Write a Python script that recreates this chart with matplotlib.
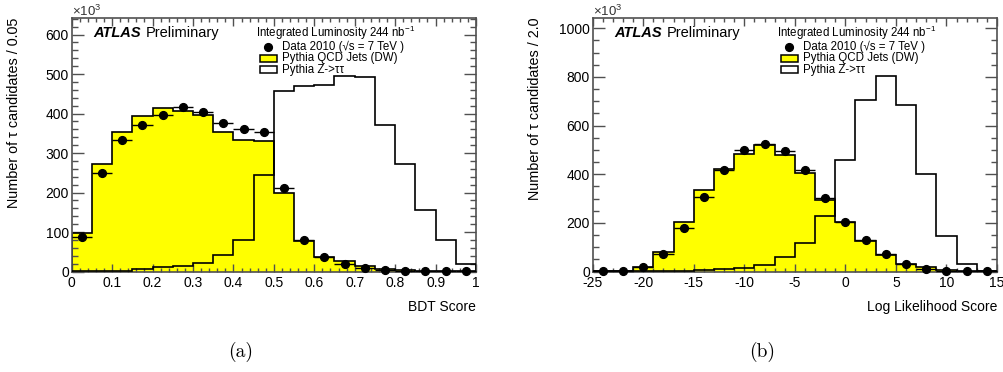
import numpy as np
import matplotlib
matplotlib.use("Agg")
import matplotlib.pyplot as plt
from matplotlib.patches import Rectangle
from matplotlib.lines import Line2D
from matplotlib.ticker import MultipleLocator

plt.rcParams['font.family'] = ['Liberation Sans', 'DejaVu Sans']
plt.rcParams['mathtext.fontset'] = 'custom'
plt.rcParams['mathtext.rm'] = 'Liberation Sans'
plt.rcParams['mathtext.it'] = 'Liberation Sans:italic'
plt.rcParams['mathtext.bf'] = 'Liberation Sans:bold'

# (a) BDT score, 20 bins of 0.05, counts in units of 10^3
bdt_edges = np.linspace(0, 1, 21)
bdt_qcd = [98, 272, 353, 394, 413, 407, 396, 354, 332, 330,
           200, 78, 36, 26, 13, 7, 3, 2, 1, 1]
bdt_ztt = [1, 1, 2, 7, 12, 15, 21, 42, 80, 245,
           456, 470, 473, 494, 492, 371, 271, 155, 81, 20]
bdt_data = [88, 249, 332, 370, 397, 417, 404, 376, 360, 353,
            211, 80, 36, 19, 10, 5, 2, 1, 0.5, 0.5]

# (b) log likelihood score, 20 bins of 2.0
llh_edges = np.arange(-25, 16, 2.0)
llh_qcd = [1, 3, 19, 80, 202, 334, 423, 483, 519, 478,
           404, 295, 205, 126, 69, 30, 18, 5, 1, 0.5]
llh_ztt = [0.5, 0.5, 0.5, 1, 3, 5, 10, 16, 27, 58,
           117, 229, 460, 706, 802, 685, 400, 147, 30, 1]
llh_data = [1, 4, 19, 71, 180, 306, 419, 499, 526, 494,
            419, 302, 203, 128, 70, 32, 11, 3, 1, 0.5]

W, H = 1004, 372
fig = plt.figure(figsize=(W / 100, H / 100), dpi=100)


def fx(x):
    return x / W


def fy(y):
    return 1 - y / H


frame_col = '#505050'


def draw_panel(left, edges, qcd, ztt, data, ymax, xmaj, xmin_, ymaj, ymin_,
               ylabel, xlabel, tag):
    ax = fig.add_axes([fx(left), fy(271.5), 404.3 / W, 253.5 / H])
    centers = 0.5 * (edges[:-1] + edges[1:])
    half = 0.5 * np.diff(edges)
    ax.stairs(qcd, edges, baseline=0, fill=True, color='#ffff00', zorder=1)
    ax.stairs(qcd, edges, baseline=0, color='black', lw=1.2, zorder=2)
    ax.stairs(ztt, edges, baseline=0, color='black', lw=1.2, zorder=3)
    ax.errorbar(centers, data, xerr=half, fmt='o', color='black', ms=5.6,
                elinewidth=1.0, capsize=0, zorder=4, clip_on=False)
    ax.set_xlim(edges[0], edges[-1])
    ax.set_ylim(0, ymax)
    ax.xaxis.set_major_locator(MultipleLocator(xmaj))
    ax.xaxis.set_minor_locator(MultipleLocator(xmin_))
    ax.yaxis.set_major_locator(MultipleLocator(ymaj))
    ax.yaxis.set_minor_locator(MultipleLocator(ymin_))
    ax.tick_params(which='both', direction='in', top=True, right=True,
                   colors=frame_col, labelcolor='black', labelsize=10, width=1)
    ax.tick_params(axis='x', which='major', length=5.5, pad=3)
    ax.tick_params(axis='x', which='minor', length=2.8)
    ax.tick_params(axis='y', which='major', length=8.6, pad=2)
    ax.tick_params(axis='y', which='minor', length=4.3)
    ax.xaxis.set_major_formatter(matplotlib.ticker.FuncFormatter(
        lambda v, p: '%g' % round(v, 3)))
    for s in ax.spines.values():
        s.set_color(frame_col)
        s.set_linewidth(1.2)

    off = left - 71.7
    fig.text(fx(off + 72), fy(11), r'$\times$10$^{3}$', fontsize=9.5,
             ha='left', va='center', color='#333333')
    fig.text(fx(off + 93), fy(33), 'ATLAS', fontsize=10.5, fontweight='bold',
             fontstyle='italic', ha='left', va='center')
    fig.text(fx(off + 146), fy(33), 'Preliminary', fontsize=10.5,
             ha='left', va='center')
    fig.text(fx(off + 256), fy(33), r'Integrated Luminosity 244 nb$^{-1}$',
             fontsize=8.3, ha='left', va='center')
    fig.add_artist(Line2D([fx(off + 268.5)], [fy(46.5)], marker='o', ms=5.6,
                          color='black', transform=fig.transFigure))
    fig.text(fx(off + 282), fy(46.5), 'Data 2010 (√s = 7 TeV )',
             fontsize=8.3, ha='left', va='center')
    fig.add_artist(Rectangle((fx(off + 260), fy(62)), 17 / W, 7.5 / H,
                             facecolor='#ffff00', edgecolor='black', lw=1.1,
                             transform=fig.transFigure))
    fig.text(fx(off + 282), fy(58), 'Pythia QCD Jets (DW)',
             fontsize=8.3, ha='left', va='center')
    fig.add_artist(Rectangle((fx(off + 260), fy(73)), 17 / W, 7.5 / H,
                             facecolor='white', edgecolor='black', lw=1.1,
                             transform=fig.transFigure))
    fig.text(fx(off + 282), fy(69.5), 'Pythia Z->ττ',
             fontsize=8.3, ha='left', va='center')

    fig.text(fx(off + 14), fy(18), ylabel, fontsize=10.4, rotation=90,
             ha='center', va='top')
    fig.text(fx(left + 404.3), fy(307), xlabel, fontsize=10,
             ha='right', va='center')
    fig.text(fx(off + 241), fy(352), tag, fontsize=14, family='cmr10',
             ha='center', va='center')
    return ax


draw_panel(71.7, bdt_edges, bdt_qcd, bdt_ztt, bdt_data, 642, 0.1, 0.02, 100, 20,
           'Number of τ candidates / 0.05', 'BDT Score', '(a)')
draw_panel(592.7, llh_edges, llh_qcd, llh_ztt, llh_data, 1042, 5, 1, 200, 50,
           'Number of τ candidates / 2.0', 'Log Likelihood Score', '(b)')

fig.savefig('out.png', dpi=100)
